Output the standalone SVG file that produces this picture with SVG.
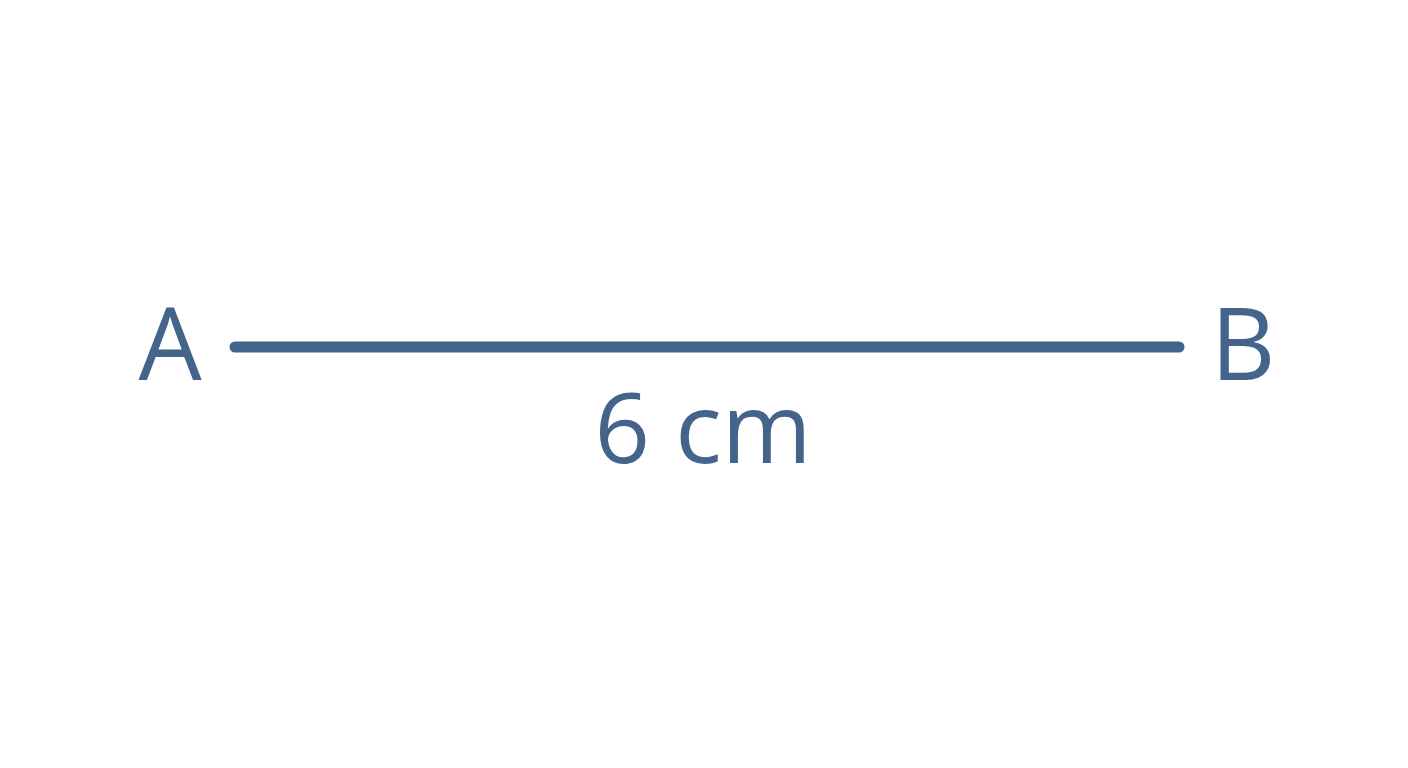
<svg xmlns="http://www.w3.org/2000/svg" width="1408" height="768" viewBox="0 0 1408 768">
<style>
.lbl{font-family:"Open Sans","Liberation Sans",sans-serif;font-weight:500;fill:#44648c;text-anchor:middle}
.pt{font-size:100px}
.len{font-size:97px}
.seg{stroke:#44648c;stroke-width:11;stroke-linecap:round;fill:none}
</style>
<rect width="1408" height="768" fill="#ffffff"/>
<g id="connectors">
<line class="seg" x1="235" y1="347" x2="1179" y2="347"/>
</g>
<g id="pointA"><text class="lbl pt" x="170" y="380">A</text></g>
<g id="pointB"><text class="lbl pt" x="1243" y="380">B</text></g>
<g id="length"><text class="lbl len" x="703" y="463">6 cm</text></g>
</svg>
